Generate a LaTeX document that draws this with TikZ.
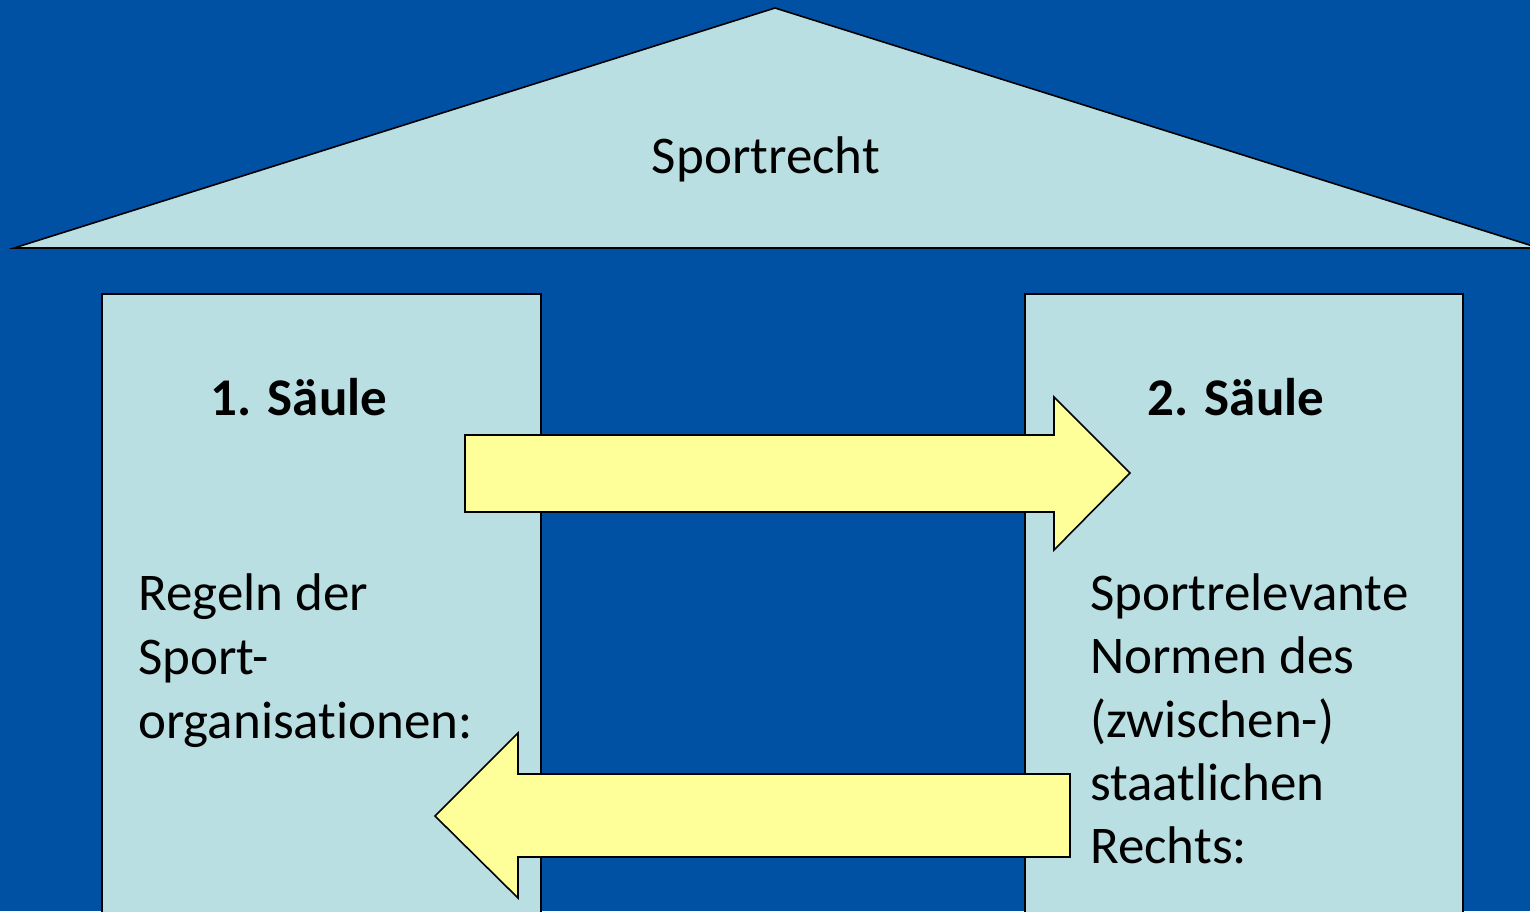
\documentclass[tikz,border=0pt]{standalone}
\usepackage{fontspec}
\setmainfont{Carlito}[RawFeature={-liga}]
\definecolor{bgblue}{HTML}{0050A4}
\definecolor{lightblue}{HTML}{B9DFE2}
\definecolor{arrowyellow}{HTML}{FFFF99}
\tikzset{
  shapebox/.style={draw=black, line width=1.6pt, fill=lightblue, line join=miter},
  bigarrow/.style={draw=black, line width=1.6pt, fill=arrowyellow, line join=miter},
  bodytext/.style={font=\fontsize{53}{64}\selectfont, inner sep=0pt, text=black},
  headtext/.style={font=\fontsize{53}{64}\selectfont\bfseries, inner sep=0pt, text=black},
}
\begin{document}
\begin{tikzpicture}[x=1pt,y=-1pt]
\useasboundingbox (0,0) rectangle (1530,911);
\fill[bgblue] (0,0) rectangle (1530,911);
\begin{scope}
\clip (0,0) rectangle (1530,911);
% roof
\draw[shapebox] (14,248) -- (775,8) -- (1539,248) -- cycle;
% pillars
\draw[shapebox] (102,930) -- (102,294) -- (541,294) -- (541,930);
\draw[shapebox] (1025,930) -- (1025,294) -- (1463,294) -- (1463,930);
% arrows
\draw[bigarrow] (465,435) -- (1054,435) -- (1054,397) -- (1130,473) -- (1054,550) -- (1054,512) -- (465,512) -- cycle;
\draw[bigarrow] (1070,774) -- (518,774) -- (518,733) -- (435,816) -- (518,898) -- (518,857) -- (1070,857) -- cycle;
\end{scope}
% texts
\node[bodytext, anchor=base] (roof) at (766,173) {Sportrecht};
\node[headtext, anchor=base] (h1) at (299,415) {1. Säule};
\node[headtext, anchor=base] (h2) at (1236,415) {2. Säule};
\node[bodytext, anchor=base west] (a1) at (138,610) {Regeln der};
\node[bodytext, anchor=base west] (a2) at (138,674) {Sport-};
\node[bodytext, anchor=base west] (a3) at (138,738) {organisationen:};
\node[bodytext, anchor=base west] (b1) at (1090,610) {Sportrelevante};
\node[bodytext, anchor=base west] (b2) at (1090,673) {Normen des};
\node[bodytext, anchor=base west] (b3) at (1090,737) {(zwischen-)};
\node[bodytext, anchor=base west] (b4) at (1090,800) {staatlichen};
\node[bodytext, anchor=base west] (b5) at (1090,863) {Rechts:};
\end{tikzpicture}
\end{document}
